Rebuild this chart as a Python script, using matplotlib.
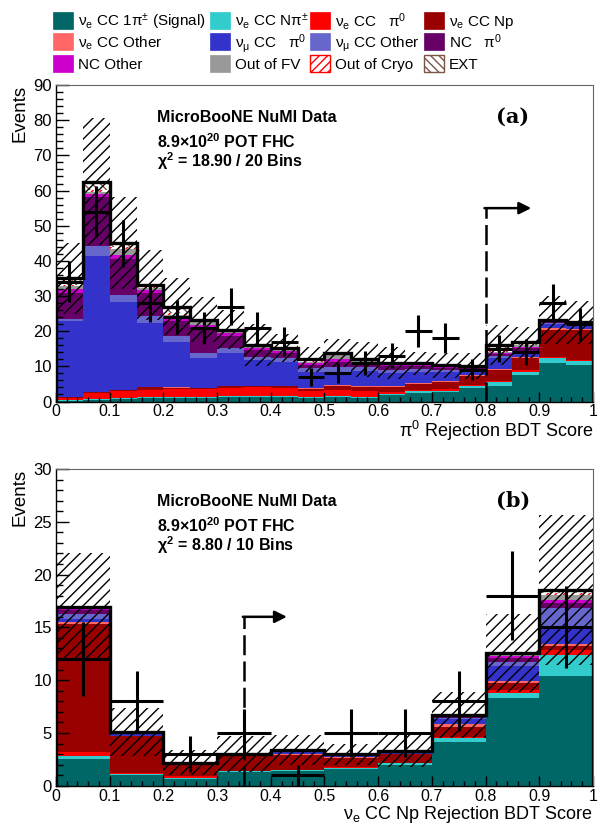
import numpy as np
import matplotlib.pyplot as plt
from matplotlib.patches import Rectangle
from matplotlib.ticker import MultipleLocator, FormatStrFormatter

plt.rcParams['font.family'] = ['Liberation Sans', 'DejaVu Sans']
plt.rcParams['mathtext.fontset'] = 'custom'
plt.rcParams['mathtext.rm'] = 'Liberation Sans'
plt.rcParams['mathtext.it'] = 'Liberation Sans:italic'
plt.rcParams['mathtext.bf'] = 'Liberation Sans:bold'
plt.rcParams['hatch.linewidth'] = 1.0

# ---- panel (a): pi0 rejection BDT score, 20 bins ----
edges_a = np.linspace(0, 1, 21)
sig_a = [0.2, 0.5, 0.8, 1.0, 0.9, 1.0, 1.2, 1.3, 1.3, 1.0, 1.2, 1.1, 1.8, 2.5, 2.6, 3.8, 4.4, 7.5, 10.9, 10.4]
npi_a = [0.1, 0.2, 0.3, 0.4, 0.3, 0.3, 0.3, 0.3, 0.3, 0.3, 0.4, 0.3, 0.4, 0.4, 0.5, 0.6, 1.2, 1.0, 1.4, 1.2]
pi0_a = [0.8, 1.8, 1.9, 2.0, 2.3, 2.2, 2.3, 2.4, 2.3, 1.8, 1.6, 1.5, 0.6, 0.5, 0.5, 0.4, 0.3, 0.5, 0.4, 0.3]
np_a = [0.1, 0.2, 0.3, 0.7, 0.4, 0.3, 0.5, 0.4, 0.4, 0.6, 1.3, 1.3, 1.4, 1.7, 2.0, 2.6, 3.1, 3.4, 7.6, 8.4]
oth_a = [0.0, 0.1, 0.1, 0.1, 0.1, 0.1, 0.1, 0.1, 0.1, 0.1, 0.2, 0.2, 0.2, 0.2, 0.2, 0.2, 0.3, 0.3, 0.5, 0.3]
mupi0_a = [21.7, 38.7, 25.0, 18.1, 13.0, 8.5, 9.4, 7.3, 6.9, 4.7, 3.8, 4.3, 3.8, 3.2, 2.6, 1.2, 3.0, 1.2, 1.2, 0.8]
muoth_a = [0.5, 2.7, 2.0, 1.9, 1.5, 1.4, 1.4, 1.0, 1.0, 0.9, 1.4, 1.0, 0.9, 0.8, 0.6, 0.3, 0.7, 0.4, 0.4, 0.3]
ncpi0_a = [7.5, 14.0, 10.2, 6.8, 4.5, 7.0, 3.3, 1.9, 1.4, 1.0, 1.4, 1.0, 0.9, 0.8, 0.6, 0.5, 0.5, 0.8, 0.3, 0.3]
ncoth_a = [1.0, 0.8, 1.2, 0.6, 1.0, 1.0, 1.0, 0.5, 0.7, 0.5, 0.7, 0.5, 0.4, 0.3, 0.3, 0.2, 0.3, 0.4, 0.2, 0.2]
oofv_a = [1.0, 0.7, 1.7, 0.7, 0.7, 0.7, 0.4, 0.4, 0.5, 0.4, 1.2, 0.4, 0.3, 0.2, 0.1, 0.1, 0.3, 0.5, 0.1, 0.1]
cryo_a = [0.3, 0.5, 0.4, 0.3, 0.5, 0.3, 0.2, 0.2, 0.2, 0.3, 0.2, 0.2, 0.1, 0.1, 0.1, 0.1, 0.2, 0.2, 0.1, 0.1]
ext_a = [1.8, 2.3, 1.2, 0.6, 1.8, 0.5, 0.3, 0.3, 0.2, 0.4, 0.3, 0.2, 0.2, 0.2, 0.2, 0.1, 1.8, 0.6, 0.1, 0.1]
syst_a = [10, 18, 13, 10, 8, 6.5, 5.6, 6, 4, 3.6, 4, 5, 4.6, 3.3, 3.5, 3.6, 5.7, 4.5, 6.7, 6]
data_a = [34, 54, 45, 28, 24, 21, 27, 21, 17, 7, 8, 11, 13, 20, 18, 9, 15, 14, 28, 22]

# ---- panel (b): nue CC Np rejection BDT score, 10 bins ----
edges_b = np.linspace(0, 1, 11)
sig_b = [2.5, 1.0, 0.6, 1.3, 1.4, 1.6, 2.0, 4.1, 8.3, 10.4]
npi_b = [0.3, 0.15, 0.1, 0.05, 0.05, 0.1, 0.15, 0.4, 0.5, 2.0]
pi0_b = [0.4, 0.05, 0.2, 0.05, 0.05, 0.05, 0.05, 0.1, 0.3, 0.5]
np_b = [12.1, 3.5, 1.1, 1.4, 1.4, 0.9, 0.8, 1.0, 0.6, 0.3]
oth_b = [0.2, 0.05, 0.05, 0.05, 0.1, 0.05, 0.05, 0.2, 0.2, 0.2]
mupi0_b = [0.3, 0.15, 0.1, 0.1, 0.25, 0.2, 0.15, 0.5, 1.4, 1.6]
muoth_b = [0.5, 0.15, 0.05, 0.05, 0.15, 0.1, 0.1, 0.1, 0.45, 1.8]
ncpi0_b = [0.3, 0.02, 0.0, 0.0, 0.0, 0.0, 0.0, 0.15, 0.35, 0.5]
ncoth_b = [0.3, 0.02, 0.0, 0.0, 0.0, 0.0, 0.0, 0.1, 0.15, 0.3]
oofv_b = [0.0, 0.01, 0.0, 0.0, 0.0, 0.0, 0.0, 0.05, 0.2, 0.5]
cryo_b = [0.0, 0.0, 0.0, 0.0, 0.0, 0.0, 0.0, 0.0, 0.05, 0.2]
ext_b = [0.0, 0.0, 0.0, 0.0, 0.0, 0.0, 0.0, 0.0, 0.1, 0.25]
syst_b = [5.1, 2.3, 1.2, 1.7, 1.4, 1.0, 1.5, 2.2, 3.7, 7.1]
data_b = [12, 8, 3, 5, 1, 5, 5, 8, 18, 15]

labels = [
    r'ν$_\mathrm{e}$ CC 1π$^{\pm}$ (Signal)',
    r'ν$_\mathrm{e}$ CC Nπ$^{\pm}$',
    r'ν$_\mathrm{e}$ CC   π$^0$',
    r'ν$_\mathrm{e}$ CC Np',
    r'ν$_\mathrm{e}$ CC Other',
    r'ν$_\mathrm{\mu}$ CC   π$^0$',
    r'ν$_\mathrm{\mu}$ CC Other',
    r'NC   π$^0$',
    'NC Other',
    'Out of FV',
    'Out of Cryo',
    'EXT',
]
colors = ['#006666', '#33cccc', '#ff0000', '#990000', '#ff6666', '#3333cc',
          '#6666cc', '#660066', '#cc00cc', '#999999', '#ff0000', '#7a5546']
hatches = [None] * 10 + ['////', '\\\\\\\\']

# cut positions
cut_a, cut_b = 0.8, 0.35


def draw_panel(ax, edges, comps, syst, data, ymax, ymajor, yminor, cut, cut_h, arrow_to, tag, chi2):
    width = np.diff(edges)
    left = edges[:-1]
    bottom = np.zeros(len(left))
    for vals, col, h in zip(comps, colors, hatches):
        vals = np.array(vals, dtype=float)
        if h is None:
            ax.bar(left, vals, width=width, bottom=bottom, align='edge', color=col, lw=0)
        else:
            ax.bar(left, vals, width=width, bottom=bottom, align='edge', facecolor='white',
                   edgecolor=col, hatch=h, lw=0)
        bottom = bottom + vals
    total = bottom
    syst = np.array(syst)
    # systematic band
    ax.bar(left, 2 * syst, width=width, bottom=total - syst, align='edge', facecolor='none',
           edgecolor='k', hatch='///', lw=0)
    ax.stairs(total, edges, color='k', lw=2.4)
    centers = 0.5 * (edges[:-1] + edges[1:])
    data = np.array(data, dtype=float)
    ax.errorbar(centers, data, xerr=width / 2, yerr=np.sqrt(data), fmt='none', ecolor='k',
                elinewidth=2.2, capsize=0)

    # selection cut
    ln, = ax.plot([cut, cut], [0, cut_h], color='k', lw=1.8)
    ln.set_dashes([8, 2.5])
    ax.annotate('', xy=(arrow_to, cut_h), xytext=(cut - 0.002, cut_h),
                arrowprops=dict(arrowstyle='-|>', color='k', lw=1.8, mutation_scale=18,
                                shrinkA=0, shrinkB=0))

    ax.set_xlim(0, 1)
    ax.set_ylim(0, ymax)
    ax.xaxis.set_major_locator(MultipleLocator(0.1))
    ax.xaxis.set_minor_locator(MultipleLocator(0.02))
    ax.xaxis.set_major_formatter(FormatStrFormatter('%g'))
    ax.yaxis.set_major_locator(MultipleLocator(ymajor))
    ax.yaxis.set_minor_locator(MultipleLocator(yminor))
    ax.tick_params(axis='both', which='both', direction='in', top=False, right=False,
                   labelsize=11.5, width=1.0)
    ax.tick_params(axis='y', which='major', length=9.4, pad=3, labelsize=12)
    ax.tick_params(axis='y', which='minor', length=4.7)
    ax.tick_params(axis='x', which='major', length=7, pad=2)
    ax.tick_params(axis='x', which='minor', length=3.6)
    for s in ['top', 'right']:
        ax.spines[s].set_color('0.4')
        ax.spines[s].set_linewidth(0.8)
    for s in ['left', 'bottom']:
        ax.spines[s].set_linewidth(1.0)

    ax.set_ylabel('Events', fontsize=13.5, loc='top')
    ax.yaxis.set_label_coords(-0.052, 1.0)

    ax.text(0.188, 0.896, 'MicroBooNE NuMI Data', transform=ax.transAxes, fontsize=11.5,
            fontweight='bold', va='center')
    ax.text(0.188, 0.821, r'8.9×10$^\mathbf{20}$ POT FHC', transform=ax.transAxes,
            fontsize=11.5, fontweight='bold', va='center')
    ax.text(0.188, 0.760, 'χ$^\\mathbf{2}$ = ' + chi2, transform=ax.transAxes,
            fontsize=11.5, fontweight='bold', va='center')
    ax.text(0.851, 0.9, tag, transform=ax.transAxes, fontsize=15, fontweight='bold',
            family='DejaVu Serif', ha='center', va='center')


W, H = 602, 825
fig = plt.figure(figsize=(W / 100, H / 100), dpi=100)
ax1 = fig.add_axes([0.093, 0.5133, 0.892, 0.3836])
ax2 = fig.add_axes([0.093, 0.0476, 0.892, 0.3839])

comps_a = [sig_a, npi_a, pi0_a, np_a, oth_a, mupi0_a, muoth_a, ncpi0_a, ncoth_a, oofv_a, cryo_a, ext_a]
comps_b = [sig_b, npi_b, pi0_b, np_b, oth_b, mupi0_b, muoth_b, ncpi0_b, ncoth_b, oofv_b, cryo_b, ext_b]

draw_panel(ax1, edges_a, comps_a, syst_a, data_a, 90, 10, 2, cut_a, 55, 0.885, '(a)', '18.90 / 20 Bins')
draw_panel(ax2, edges_b, comps_b, syst_b, data_b, 30, 5, 1, cut_b, 16, 0.43, '(b)', '8.80 / 10 Bins')

ax1.set_xlabel(r'π$^0$ Rejection BDT Score', fontsize=13, loc='right')
ax1.xaxis.set_label_coords(1.0, -0.113)
ax1.xaxis.label.set_verticalalignment('baseline')
ax2.set_xlabel(r'ν$_\mathrm{e}$ CC Np Rejection BDT Score', fontsize=13, loc='right')
ax2.xaxis.set_label_coords(1.0, -0.106)
ax2.xaxis.label.set_verticalalignment('baseline')

# legend: 4 columns x 3 rows, entries filled row by row (pixel layout of the header)
col_x = [53, 210, 310, 424]
row_y = [12, 33.5, 55]
box_w, box_h = 20, 16.5
for i, (lab, col, h) in enumerate(zip(labels, colors, hatches)):
    x0 = col_x[i % 4]
    y0 = row_y[i // 4]
    if h is None:
        rect = Rectangle((x0 / W, 1 - (y0 + box_h) / H), box_w / W, box_h / H,
                         transform=fig.transFigure, facecolor=col, edgecolor=col, lw=0.5)
    else:
        rect = Rectangle((x0 / W, 1 - (y0 + box_h) / H), box_w / W, box_h / H,
                         transform=fig.transFigure, facecolor='white', edgecolor=col,
                         hatch=h, lw=1.0)
    fig.add_artist(rect)
    fig.text((x0 + box_w + 5) / W, 1 - (y0 + box_h / 2 + 6) / H, lab, fontsize=11,
             va='baseline', ha='left')

fig.savefig('out.png', dpi=100)
